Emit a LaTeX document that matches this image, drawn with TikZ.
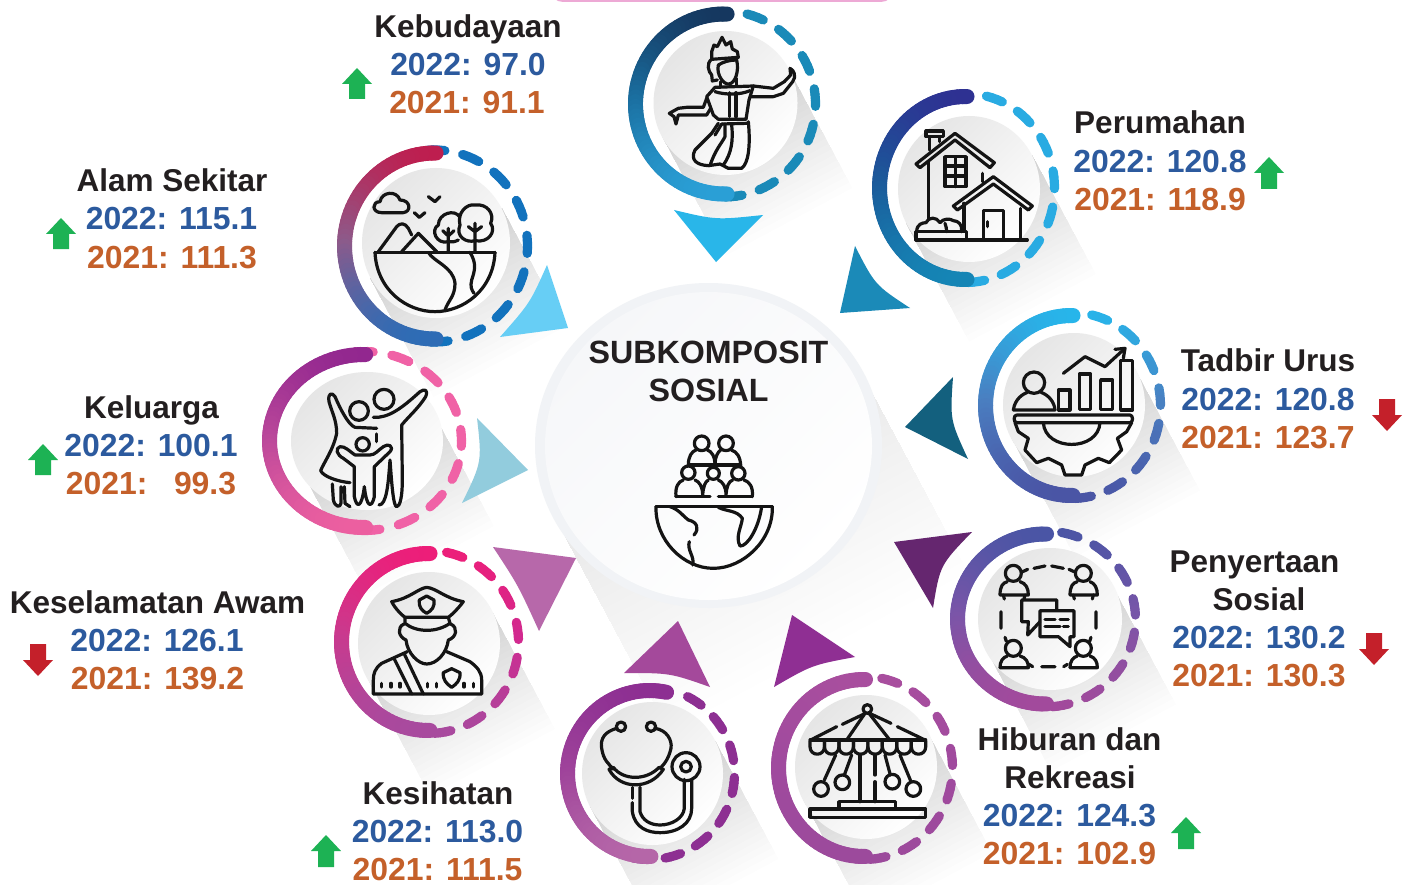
\documentclass[tikz,border=0pt]{standalone}
\usepackage{fontspec}
\setmainfont{Liberation Sans}
\definecolor{tblack}{HTML}{231F20}
\definecolor{tblue}{HTML}{2C5A9E}
\definecolor{torange}{HTML}{C4602A}
\definecolor{upgreen}{HTML}{1DB254}
\definecolor{downred}{HTML}{C4202A}
\definecolor{pinkbar}{HTML}{EDA9D5}
\definecolor{cenout}{HTML}{F1F3F6}
\definecolor{cenin}{HTML}{F6F7F9}
\definecolor{tri1}{HTML}{29B6E9}
\definecolor{tri2}{HTML}{1B8AB8}
\definecolor{tri3}{HTML}{13607E}
\definecolor{tri4}{HTML}{65266F}
\definecolor{tri5}{HTML}{8F2F93}
\definecolor{tri6}{HTML}{A4499B}
\definecolor{tri7}{HTML}{B768AA}
\definecolor{tri8}{HTML}{92CCDD}
\definecolor{tri9}{HTML}{67CEF5}
\tikzset{
  lab/.style={anchor=base,inner sep=0pt,yshift=-0.6pt,font=\fontsize{31.5}{36}\selectfont\bfseries,text=tblack},
  yrb/.style={anchor=base,inner sep=0pt,yshift=-0.6pt,font=\fontsize{31.9}{36}\selectfont\bfseries,text=tblue},
  yro/.style={anchor=base,inner sep=0pt,yshift=-0.6pt,font=\fontsize{31.9}{36}\selectfont\bfseries,text=torange},
  ico/.style={draw=black!92,line width=3.2pt,line cap=round,line join=round,fill=none},
}
\newcommand{\segcolor}[1]{%
  \pgfmathsetmacro\myt{(1-sin(#1))*50}%
  \ifdim\myt pt<50pt
    \pgfmathsetmacro\myp{2*\myt}\colorlet{segc}{cm!\myp!ct}%
  \else
    \pgfmathsetmacro\myp{2*\myt-100}\colorlet{segc}{cb!\myp!cm}%
  \fi}
% cx cy rx ry a1 a2 width
\newcommand{\gradarc}[7]{%
  \pgfmathtruncatemacro\nseg{max(1,abs(#6-#5)/3)}%
  \foreach \k in {1,...,\nseg}{%
    \pgfmathsetmacro\aa{#5+(#6-#5)*(\k-1)/\nseg}%
    \pgfmathsetmacro\ab{#5+(#6-#5)*\k/\nseg}%
    \segcolor{(\aa+\ab)/2}%
    \draw[segc,line width=#7pt,line cap=round]
      ({#1+#3*cos(\aa)},{#2-#4*sin(\aa)}) -- ({#1+#3*cos(\ab)},{#2-#4*sin(\ab)});
  }}
% cx cy rx ry firstdash ndash a1 a2 ; colours dt dm db st sm sb
\newcommand{\ringdraw}[8]{%
  \begin{scope}
  \colorlet{ct}{dt}\colorlet{cm}{dm}\colorlet{cb}{db}%
  \pgfmathsetmacro\drx{#3-4.5}\pgfmathsetmacro\dry{#4-4.5}%
  \foreach \j in {1,...,#6}{%
    \pgfmathsetmacro\da{#5-2.6-22*(\j-1)}%
    \pgfmathsetmacro\db{\da-10.8}%
    \gradarc{#1}{#2}{\drx}{\dry}{\da}{\db}{9.2}%
  }%
  \colorlet{ct}{st}\colorlet{cm}{sm}\colorlet{cb}{sb}%
  \pgfmathsetmacro\srx{#3-7.5}\pgfmathsetmacro\sry{#4-7.5}%
  \gradarc{#1}{#2}{\srx}{\sry}{#7}{#8}{15}%
  \end{scope}}
% cx cy r length alpha-step
\newcommand{\bandshadow}[5]{%
  \foreach \k in {1,...,24}{%
    \pgfmathsetmacro\lk{#4*pow(\k/24,1.15)}%
    \fill[black,opacity=#5]
      ({#1+#3*0.88},{#2-#3*0.47}) -- ({#1+#3*0.88+\lk*0.47},{#2-#3*0.47+\lk*0.88})
      -- ({#1-#3*0.88+\lk*0.47},{#2+#3*0.47+\lk*0.88}) -- ({#1-#3*0.88},{#2+#3*0.47}) -- cycle;
  }}
\newcommand{\disc}[4]{%
  \shade[top color=gray!20,middle color=gray!7,bottom color=white,shading angle=45]
    (#1,#2) ellipse [x radius=#3pt,y radius=#4pt];}
\newcommand{\uparr}[4]{% name x tip bottom
  \fill[upgreen] (#2,#3) coordinate (#1) -- (#2+15,#3+16) -- (#2+8,#3+16) -- (#2+8,#4) -- (#2-8,#4) -- (#2-8,#3+16) -- (#2-15,#3+16) -- cycle;}
\newcommand{\dnarr}[4]{% name x top tip
  \fill[downred] (#2,#4) coordinate (#1) -- (#2+15,#4-16) -- (#2+8,#4-16) -- (#2+8,#3) -- (#2-8,#3) -- (#2-8,#4-16) -- (#2-15,#4-16) -- cycle;}
\begin{document}
\begin{tikzpicture}[x=1pt,y=-1pt]
\useasboundingbox (0,0) rectangle (1412,885);
\fill[white] (0,0) rectangle (1412,885);
% pink bar at the top edge
\fill[pinkbar,rounded corners=10pt] (552,-20) rectangle (892,1.8);
% shadows
\bandshadow{708}{445}{170}{235}{0.0058}
\bandshadow{725.5}{103}{72}{135}{0.0085}
\bandshadow{969}{189}{72}{135}{0.0085}
\bandshadow{1074}{405}{71}{135}{0.0085}
\bandshadow{1050}{619}{71}{135}{0.0085}
\bandshadow{866}{767}{71}{135}{0.0085}
\bandshadow{652.5}{773.5}{71}{135}{0.0085}
\bandshadow{429}{643.5}{71}{135}{0.0085}
\bandshadow{367}{441}{72}{135}{0.0085}
\bandshadow{436}{243}{75}{135}{0.0085}
% centre disc
\fill[cenout] (708.5,445.5) ellipse [x radius=173.5pt,y radius=162.5pt];
\shade[top color=cenin,bottom color=white,shading angle=45]
  (708.5,446) ellipse [x radius=163.5pt,y radius=154pt];
% triangles
\fill[tri1] (674,210) .. controls (716,220) .. (763,215) -- (716,262) -- cycle;
\fill[tri2] (855,246) .. controls (875,285) .. (910,308) -- (840,313) -- cycle;
\fill[tri3] (953,377) .. controls (950,420) .. (968,459) -- (905,427) -- cycle;
\fill[tri4] (972,532) .. controls (940,565) .. (933,608) -- (894,542) -- cycle;
\fill[tri5] (855,657) .. controls (812,665) .. (774,687) -- (792,615) -- cycle;
\fill[tri6] (624,673) .. controls (670,673) .. (710,687) -- (678,621) -- cycle;
\fill[tri7] (493,547) .. controls (518,585) .. (539,631) -- (576,558) -- cycle;
\fill[tri8] (477,418) .. controls (482,462) .. (462,503) -- (528,470) -- cycle;
\fill[tri9] (547,265) .. controls (530,303) .. (500,337) -- (568,328) -- cycle;
% discs and rings
\definecolor{dt}{HTML}{1A8AB8}\definecolor{dm}{HTML}{1A8AB8}\definecolor{db}{HTML}{1A8AB8}
\definecolor{st}{HTML}{15375F}\definecolor{sm}{HTML}{1A6FA0}\definecolor{sb}{HTML}{2A9FD6}
\disc{725.5}{103}{72}{72}\ringdraw{724}{104}{96}{97.5}{78}{8}{88}{272}
\definecolor{dt}{HTML}{29ABE2}\definecolor{dm}{HTML}{29ABE2}\definecolor{db}{HTML}{29ABE2}
\definecolor{st}{HTML}{2E3192}\definecolor{sm}{HTML}{1B5A9A}\definecolor{sb}{HTML}{1585B5}
\disc{969}{189}{71}{73}\ringdraw{965.5}{188}{93.5}{99}{79}{8}{89}{271}
\definecolor{dt}{HTML}{27B5EA}\definecolor{dm}{HTML}{4A7FC1}\definecolor{db}{HTML}{4A55A5}
\definecolor{st}{HTML}{27B5EA}\definecolor{sm}{HTML}{4A7FC1}\definecolor{sb}{HTML}{4A55A5}
\disc{1074}{405}{71}{72}\ringdraw{1071.5}{405.5}{93.5}{97.5}{79.5}{8}{89}{271}
\definecolor{dt}{HTML}{4A55A5}\definecolor{dm}{HTML}{7A55A8}\definecolor{db}{HTML}{A24A9C}
\definecolor{st}{HTML}{4A55A5}\definecolor{sm}{HTML}{7A55A8}\definecolor{sb}{HTML}{A24A9C}
\disc{1050}{619}{72}{71}\ringdraw{1045}{619}{95}{92.5}{82}{8}{89}{271}
\definecolor{dt}{HTML}{A84E9E}\definecolor{dm}{HTML}{A04A9E}\definecolor{db}{HTML}{9C4A9C}
\definecolor{st}{HTML}{A84E9E}\definecolor{sm}{HTML}{A04A9E}\definecolor{sb}{HTML}{9C4A9C}
\disc{866}{767}{71}{72}\ringdraw{864}{768}{93}{96}{81}{8}{89}{271}
\definecolor{dt}{HTML}{8D2F92}\definecolor{dm}{HTML}{8D2F92}\definecolor{db}{HTML}{8D2F92}
\definecolor{st}{HTML}{8D2F92}\definecolor{sm}{HTML}{9E429A}\definecolor{sb}{HTML}{B566A8}
\disc{652.5}{773.5}{70.5}{71.5}\ringdraw{649.5}{773.5}{89.5}{90.5}{66}{8}{78}{271}
\definecolor{dt}{HTML}{ED1E79}\definecolor{dm}{HTML}{D02A90}\definecolor{db}{HTML}{A84A9E}
\definecolor{st}{HTML}{ED1E79}\definecolor{sm}{HTML}{C93A8E}\definecolor{sb}{HTML}{A84A9E}
\disc{429}{643.5}{71}{71.5}\ringdraw{428.5}{642}{94.5}{96}{81}{8}{89}{271}
\definecolor{dt}{HTML}{F062A6}\definecolor{dm}{HTML}{F062A6}\definecolor{db}{HTML}{F062A6}
\definecolor{st}{HTML}{92278F}\definecolor{sm}{HTML}{B9479A}\definecolor{sb}{HTML}{EC5FA0}
\disc{367}{441}{76}{69}\ringdraw{364}{441}{102}{94}{98}{9}{89}{271}
\definecolor{dt}{HTML}{1272BD}\definecolor{dm}{HTML}{1272BD}\definecolor{db}{HTML}{1272BD}
\definecolor{st}{HTML}{BE1E4F}\definecolor{sm}{HTML}{8E5A8A}\definecolor{sb}{HTML}{2E6CB5}
\disc{436}{243}{74}{75}\ringdraw{434.5}{246}{97.5}{100.5}{97}{9}{89}{271}
% ---------- icons, in zoomed coordinates (3x) ----------
% dancer
\begin{scope}[shift={(600,0)},scale=0.33333]
\draw[ico] (335,178) -- (335,155) -- (342,135) -- (352,140) -- (366,112) -- (378,135) -- (392,125) -- (397,147) -- (412,155) -- (415,172) -- cycle;
\draw[ico] (335,178) .. controls (318,190) and (325,215) .. (335,225) -- (337,243) -- (352,240);
\draw[ico] (355,195) .. controls (348,225) and (372,255) .. (387,252) .. controls (405,250) and (418,215) .. (410,180);
\draw[ico] (355,195) .. controls (370,185) and (390,180) .. (410,180);
\draw[ico] (362,245) -- (362,262) (410,235) -- (410,255);
\draw[ico] (320,290) -- (345,262) -- (460,258) -- (447,300) -- (438,358) -- (355,358) -- (340,345) -- cycle;
\draw[ico] (345,275) .. controls (375,285) and (420,285) .. (450,272);
\draw[ico] (460,258) -- (520,265) -- (553,245) -- (572,225) -- (570,205) .. controls (582,210) and (590,230) .. (578,245) -- (550,280) -- (520,290) -- (452,290);
\draw[ico] (320,295) -- (310,322) -- (260,322) -- (235,325) -- (208,340) -- (222,350) -- (228,372) -- (235,345) -- (320,345) -- (332,325);
\draw[ico] (388,278) -- (388,350) (408,278) -- (408,350);
\draw[ico] (365,372) -- (440,370);
\draw[ico] (355,370) -- (335,400) -- (285,450) .. controls (270,480) and (290,495) .. (325,497) -- (360,492) -- (385,505) -- (425,505) .. controls (445,490) and (452,440) .. (445,365);
\draw[ico] (375,372) -- (375,410) .. controls (365,430) and (345,450) .. (330,497);
\draw[ico] (395,375) .. controls (400,420) and (395,460) .. (370,495);
\draw[ico] (365,372) -- (345,405);
% house
\draw[ico] (978,393) rectangle (1030,410);
\draw[ico] (988,410) -- (988,450) (1018,410) -- (1018,425);
\draw[ico] (948,492) -- (1065,400) -- (1183,488) -- (1170,503) -- (1065,420) -- (960,503) -- cycle;
\draw[ico] (985,485) -- (985,660);
\draw[ico] (1035,470) rectangle (1098,560);
\draw[ico] (1066,470) -- (1066,560) (1035,498) -- (1098,498) (1035,528) -- (1098,528);
\draw[ico] (1148,520) -- (1148,545);
\draw[ico] (1060,618) -- (1180,530) -- (1297,618) -- (1285,630) -- (1180,552) -- (1072,630) -- cycle;
\draw[ico] (1092,610) -- (1092,690) (1262,625) -- (1262,720);
\draw[ico] (1150,720) -- (1150,632) -- (1210,632) -- (1210,720) (1162,665) -- (1162,680);
\draw[ico] (948,720) -- (1282,720);
\draw[ico] (948,720) -- (948,695) -- (1100,695) -- (1100,720);
\draw[ico] (950,695) .. controls (950,672) and (968,668) .. (978,668) .. controls (985,650) and (1010,650) .. (1020,668) .. controls (1030,655) and (1050,655) .. (1060,662) .. controls (1075,662) and (1088,675) .. (1085,695);
\draw[ico] (1035,670) .. controls (1038,680) and (1040,685) .. (1040,695);
\end{scope}
% tadbir urus, penyertaan
\begin{scope}[shift={(960,300)},scale=0.33333]
\draw[ico] (222,248) circle[radius=32];
\draw[ico] (160,330) .. controls (165,295) and (190,282) .. (202,277) (243,277) .. controls (265,285) and (283,305) .. (285,330) -- (160,330);
\draw[ico] (295,270) rectangle (330,330);
\draw[ico] (358,222) rectangle (392,328);
\draw[ico] (422,240) rectangle (458,328);
\draw[ico] (482,182) rectangle (518,330);
\draw[ico] (310,220) -- (375,170) -- (435,200) -- (495,145);
\draw[ico] (465,148) -- (495,145) -- (490,175);
\draw[ico] (170,345) -- (510,345) .. controls (520,345) and (520,368) .. (510,368) -- (170,368) .. controls (160,368) and (160,345) .. (170,345);
\draw[ico] (165,368) -- (175,395) -- (205,415) -- (195,450) -- (230,488) -- (265,475) -- (305,495) -- (315,525) -- (365,525) -- (375,495) -- (415,475) -- (448,488) -- (485,450) -- (472,415) -- (500,395) -- (515,368);
\draw[ico] (250,368) .. controls (255,455) and (415,455) .. (420,368);
% people
\draw[ico] (160,820) circle[radius=24] (370,820) circle[radius=24] (160,1045) circle[radius=24] (370,1045) circle[radius=24];
\draw[ico] (120,885) .. controls (120,860) and (128,848) .. (142,845) (180,845) .. controls (198,850) and (205,865) .. (205,885) -- (120,885);
\draw[ico] (330,885) .. controls (330,860) and (338,848) .. (352,845) (390,845) .. controls (405,850) and (412,865) .. (412,885) -- (330,885);
\draw[ico] (120,1103) .. controls (120,1085) and (128,1072) .. (142,1068) (180,1068) .. controls (198,1073) and (205,1085) .. (205,1103) -- (120,1103);
\draw[ico] (330,1103) .. controls (330,1085) and (338,1072) .. (352,1068) (390,1068) .. controls (405,1073) and (412,1085) .. (412,1103) -- (330,1103);
\draw[ico] (130,885) -- (133,897) (195,885) -- (192,897) (340,885) -- (343,897) (400,885) -- (397,897);
\draw[ico] (222,805) -- (255,798) (275,798) -- (310,805) (123,935) -- (123,985) (408,935) -- (408,985) (245,1100) -- (285,1100);
\draw[ico] (188,815) -- (203,808) (342,815) -- (327,808) (135,1012) -- (139,1024) (393,1012) -- (389,1024) (207,1093) -- (218,1100) (322,1093) -- (311,1100);
\draw[ico] (185,900) -- (290,900) -- (290,930) (185,900) -- (185,965) -- (205,965) -- (203,1005) -- (240,965);
\draw[ico] (240,932) -- (342,932) -- (342,1010) -- (330,1010) -- (330,1040) -- (295,1010) -- (240,1010) -- cycle;
\draw[ico] (255,958) -- (285,958) (300,958) -- (325,958) (255,980) -- (300,980) (310,980) -- (325,980);
\end{scope}
% carousel
\begin{scope}[shift={(765,665)},scale=0.33333]
\draw[ico] (307,132) circle[radius=13];
\draw[ico] (137,225) -- (215,185) (232,178) -- (295,148) (320,148) -- (378,175) (397,185) -- (480,225);
\draw[ico] (300,145) -- (247,222) (312,145) -- (372,222);
\draw[ico] (135,225) -- (482,225);
\foreach \i in {0,...,7}{
  \pgfmathsetmacro\xa{135+43.4*\i}\pgfmathsetmacro\xb{\xa+43.4}
  \draw[ico] (\xa,228) -- (\xa,245) .. controls (\xa,275) and (\xb,275) .. (\xb,245) -- (\xb,228);
}
\draw[ico] (285,270) -- (285,410) (330,270) -- (330,330) (330,350) -- (330,410);
\draw[ico] (212,270) -- (178,345) (260,270) -- (238,330) (360,270) -- (376,330) (405,270) -- (438,350);
\draw[ico] (168,372) circle[radius=22] (232,352) circle[radius=22] (382,350) circle[radius=22] (445,372) circle[radius=22];
\draw[ico] (222,432) -- (222,410) -- (392,410) -- (392,432);
\draw[ico] (135,432) rectangle (482,457);
\end{scope}
% stethoscope
\begin{scope}[shift={(555,680)},scale=0.33333]
\draw[ico] (198,140) circle[radius=14] (288,140) circle[radius=14];
\draw[ico] (185,145) .. controls (150,155) and (135,175) .. (140,205) .. controls (145,240) and (160,250) .. (175,268);
\draw[ico] (300,145) .. controls (335,150) and (352,180) .. (348,205) .. controls (340,240) and (325,255) .. (315,265);
\draw[ico] (162,268) .. controls (195,330) and (285,330) .. (325,268) -- (312,262) .. controls (275,302) and (205,302) .. (175,262) -- cycle;
\draw[ico] (232,322) -- (232,355);
\draw[ico] (232,368) -- (232,395) .. controls (240,445) and (280,458) .. (315,458) .. controls (370,458) and (410,430) .. (410,385) -- (410,298);
\draw[ico] (255,322) -- (255,395) .. controls (262,420) and (285,435) .. (315,435) .. controls (350,435) and (385,415) .. (388,385) -- (388,298);
\draw[ico] (393,260) circle[radius=42];
\draw[ico] (393,260) circle[radius=16];
\end{scope}
% police
\begin{scope}[shift={(330,540)},scale=0.33333]
\draw[ico] (185,185) .. controls (240,175) and (265,145) .. (290,142) .. controls (320,145) and (345,175) .. (400,185) .. controls (385,205) and (365,225) .. (355,232) -- (225,232) .. controls (215,225) and (195,205) .. (185,185) -- cycle;
\draw[ico] (225,232) -- (225,250) .. controls (260,278) and (320,278) .. (360,250) -- (355,232);
\draw[ico] (268,180) -- (290,168) -- (312,180) .. controls (315,200) and (305,212) .. (290,220) .. controls (275,212) and (265,200) .. (268,180) -- cycle;
\draw[ico] (222,252) .. controls (200,262) and (205,290) .. (228,300) .. controls (232,340) and (265,372) .. (290,372) .. controls (320,372) and (350,340) .. (355,300) .. controls (380,292) and (385,262) .. (362,252);
\draw[ico] (232,335) -- (155,370) .. controls (135,385) and (130,400) .. (130,420) -- (130,462) -- (455,462) -- (455,420) .. controls (455,395) and (440,380) .. (420,365) -- (350,335);
\draw[ico] (192,355) -- (245,462) (222,340) -- (280,462);
\draw[ico] (340,398) -- (365,386) -- (390,398) .. controls (392,420) and (380,432) .. (365,442) .. controls (350,432) and (338,420) .. (340,398) -- cycle;
\draw[ico] (155,430) -- (155,441) (183,430) -- (183,441) (210,430) -- (210,441) (292,430) -- (292,441) (320,430) -- (320,441) (402,430) -- (402,441) (430,430) -- (430,441);
\end{scope}
% family
\begin{scope}[shift={(255,340)},scale=0.33333]
\draw[ico] (365,265) -- (300,262) .. controls (280,255) and (255,205) .. (240,170) .. controls (230,155) and (218,160) .. (222,185) .. controls (230,215) and (245,240) .. (245,280) .. controls (235,330) and (205,370) .. (197,392) .. controls (205,410) and (250,425) .. (285,428);
\draw[ico] (312,213) circle[radius=28] (387,178) circle[radius=30] (323,313) circle[radius=20];
\draw[ico] (355,232) .. controls (400,235) and (440,205) .. (495,155) .. controls (510,145) and (520,150) .. (512,170) .. controls (490,205) and (465,225) .. (440,255) -- (442,420) .. controls (442,470) and (435,500) .. (425,500) .. controls (415,500) and (410,430) .. (405,360) .. controls (400,430) and (395,495) .. (372,495);
\draw[ico] (300,345) .. controls (285,335) and (270,318) .. (255,320) .. controls (240,325) and (245,345) .. (265,355) -- (298,380) -- (298,470) .. controls (305,505) and (320,505) .. (328,440) .. controls (335,505) and (350,505) .. (358,470) -- (358,380) -- (405,335) .. controls (418,320) and (400,308) .. (385,320) .. controls (370,330) and (360,345) .. (345,345) -- (300,345);
\draw[ico] (365,282) -- (365,305);
\draw[ico] (232,432) -- (235,480) .. controls (240,500) and (255,505) .. (258,490) -- (258,440) (268,440) -- (270,490) -- (285,500);
\end{scope}
% landscape
\begin{scope}[shift={(320,130)},scale=0.33333]
\draw[ico] (185,248) .. controls (155,248) and (155,215) .. (180,215) .. controls (185,185) and (230,180) .. (240,210) .. controls (272,210) and (275,245) .. (250,248) -- cycle;
\draw[ico] (325,200) -- (345,215) -- (360,200) (283,248) -- (298,262) -- (315,248);
\draw[ico] (175,365) -- (230,290) .. controls (240,278) and (255,278) .. (265,295) -- (275,315);
\draw[ico] (245,365) -- (295,310) -- (350,365);
\draw[ico] (385,335) .. controls (350,345) and (330,300) .. (355,285) .. controls (355,250) and (405,235) .. (420,262);
\draw[ico] (415,330) .. controls (405,335) and (395,338) .. (385,335);
\draw[ico] (385,295) -- (385,365) (385,318) -- (368,302) (385,318) -- (402,302);
\draw[ico] (465,332) .. controls (440,340) and (405,320) .. (420,285) .. controls (410,250) and (440,220) .. (465,225) .. controls (500,220) and (525,250) .. (512,280) .. controls (530,305) and (505,340) .. (465,332);
\draw[ico] (465,280) -- (465,365) (465,305) -- (445,290) (465,305) -- (485,290);
\draw[ico] (165,367) -- (525,367);
\draw[ico] (165,367) .. controls (170,480) and (260,545) .. (345,545) .. controls (430,545) and (520,480) .. (525,367);
\draw[ico] (325,367) .. controls (340,395) and (400,410) .. (405,460) .. controls (405,500) and (385,510) .. (375,540);
\draw[ico] (450,367) .. controls (470,400) and (465,420) .. (455,450) .. controls (450,470) and (455,480) .. (462,490);
\end{scope}
% centre icon
\begin{scope}[shift={(540,280)},scale=0.33333]
\draw[ico] (348,680) -- (697,680);
\draw[ico] (348,680) .. controls (345,780) and (430,865) .. (520,865) .. controls (610,865) and (700,780) .. (697,680);
\draw[ico] (390,680) .. controls (420,690) and (430,710) .. (445,720) .. controls (470,725) and (480,745) .. (462,765);
\draw[ico] (448,785) .. controls (440,810) and (465,830) .. (458,855);
\draw[ico] (535,682) .. controls (560,695) and (590,690) .. (607,715) .. controls (605,740) and (585,770) .. (600,798) .. controls (620,800) and (655,750) .. (665,680);
\draw[ico] (485,490) circle[radius=22] (558,490) circle[radius=22];
\draw[ico] (445,555) .. controls (445,530) and (455,514) .. (468,510) (502,510) .. controls (515,514) and (525,530) .. (525,552) .. controls (525,530) and (535,514) .. (542,510) (574,510) .. controls (590,515) and (602,530) .. (602,560);
\draw[ico] (445,555) -- (602,555);
\draw[ico] (445,578) circle[radius=20] (520,580) circle[radius=18] (595,580) circle[radius=20];
\draw[ico] (408,650) .. controls (405,620) and (415,605) .. (430,600) (465,600) .. controls (478,605) and (488,620) .. (488,645) .. controls (490,620) and (495,605) .. (505,600) (535,600) .. controls (548,605) and (558,620) .. (558,645) .. controls (560,620) and (565,605) .. (578,600) (612,600) .. controls (628,605) and (640,620) .. (637,650);
\draw[ico] (408,650) -- (510,650) (535,650) -- (637,650);
\end{scope}
% ---------- arrows ----------
\uparr{a1}{357}{68}{99}
\uparr{a2}{1269}{157}{189}
\uparr{a3}{61}{218}{249}
\dnarr{a4}{1387}{399}{431}
\uparr{a5}{43}{444}{475}
\dnarr{a6}{1374}{633}{665}
\dnarr{a7}{38}{644}{676}
\uparr{a8}{1186}{817}{849}
\uparr{a9}{326}{835}{867}
% ---------- text ----------
\node[lab] (c1) at (708.5,363) {\fontsize{32.2}{36}\selectfont SUBKOMPOSIT};
\node[lab] (c2) at (708.5,401) {\fontsize{32.2}{36}\selectfont SOSIAL};
\node[lab] (t1) at (468,37) {Kebudayaan};
\node[yrb] (b1) at (468,75) {2022: 97.0};
\node[yro] (o1) at (467,113) {2021: 91.1};
\node[lab] (t2) at (1160,133) {Perumahan};
\node[yrb] (b2) at (1160,172) {2022: 120.8};
\node[yro] (o2) at (1160,210) {2021: 118.9};
\node[lab] (t3) at (172,191) {Alam Sekitar};
\node[yrb] (b3) at (171.5,229) {2022: 115.1};
\node[yro] (o3) at (172,268) {2021: 111.3};
\node[lab] (t4) at (1268,371) {Tadbir Urus};
\node[yrb] (b4) at (1268,410) {2022: 120.8};
\node[yro] (o4) at (1268,448) {2021: 123.7};
\node[lab] (t5) at (151.5,418) {Keluarga};
\node[yrb] (b5) at (151,456) {2022: 100.1};
\node[yro] (o5) at (151,494) {2021:\ \ \ 99.3};
\node[lab] (t6a) at (1254.5,572) {Penyertaan};
\node[lab] (t6b) at (1259,610) {Sosial};
\node[yrb] (b6) at (1259,648) {2022: 130.2};
\node[yro] (o6) at (1259,686) {2021: 130.3};
\node[lab] (t7) at (157.5,613) {Keselamatan Awam};
\node[yrb] (b7) at (157,651) {2022: 126.1};
\node[yro] (o7) at (157.5,689) {2021: 139.2};
\node[lab] (t8a) at (1069.5,750) {Hiburan dan};
\node[lab] (t8b) at (1070,788) {Rekreasi};
\node[yrb] (b8) at (1069.5,826) {2022: 124.3};
\node[yro] (o8) at (1069.5,864) {2021: 102.9};
\node[lab] (t9) at (438,804) {Kesihatan};
\node[yrb] (b9) at (437.5,842) {2022: 113.0};
\node[yro] (o9) at (437.5,880) {2021: 111.5};
\end{tikzpicture}
\end{document}
